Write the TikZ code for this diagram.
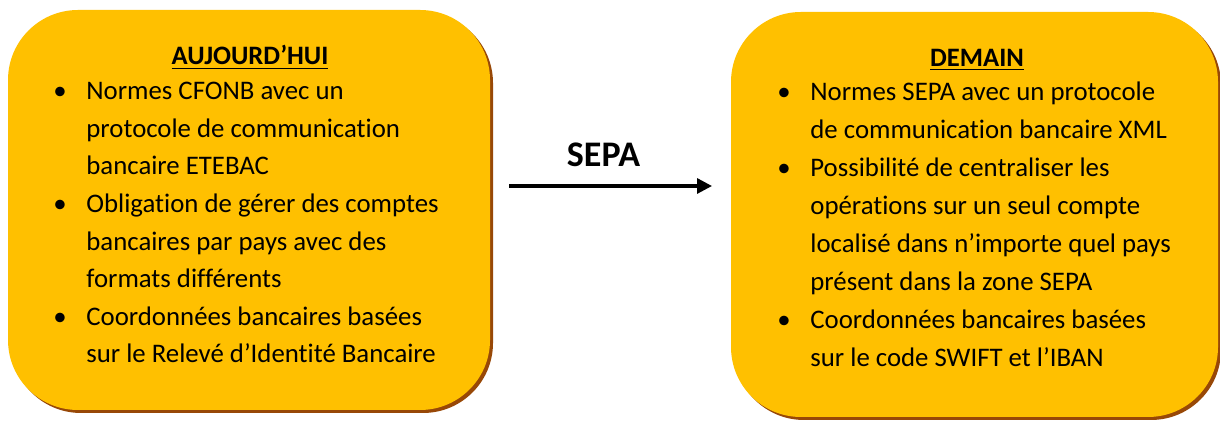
\documentclass[tikz,border=0pt]{standalone}
\usepackage{fontspec}
\setmainfont{Carlito}[Ligatures = NoCommon]
\usetikzlibrary{arrows.meta, positioning}

\definecolor{jaune}{HTML}{FFC000}
\definecolor{brun}{HTML}{984807}
\newcommand{\puce}{\makebox[16.5pt][l]{\textbullet}}
\newcommand{\suite}{\hspace*{16.5pt}}

\begin{document}
\begin{tikzpicture}[
                x = 0.5pt, y = -0.5pt, % one unit = one pixel, y going down
                > = {Triangle[length = 7.5pt, width = 7.5pt]}, % arrow head style
                node distance = 7mm
            ]

            \tikzstyle{boite}=[fill = jaune, rounded corners = 35pt, inner sep = 0pt,
            preaction = {fill = brun, transform canvas = {shift = {(1.5pt,-1.5pt)}}}]
            \tikzstyle{titre}=[anchor = base, inner sep = 0pt,
            font = \fontsize{13.3}{15.6}\selectfont\bfseries]
            \tikzstyle{liste}=[anchor = base west, align = left, inner sep = 0pt]

            \useasboundingbox (0,0) rectangle (1220,421);

            % the two boxes
            \node (auj) [boite, minimum width = 241pt, minimum height = 200pt] at (249,210) {};
            \node (dem) [boite, minimum width = 243.5pt, minimum height = 202.5pt] at (974.5,214.5) {};

            \node (tauj) [titre] at (250,65) {\underline{AUJOURD’HUI}};
            \node (tdem) [titre] at (977,67) {\underline{DEMAIN}};

            % base = last line of the list
            \node (lauj) [liste, font = \fontsize{13.4}{18.8}\selectfont] at (53,363) {\puce Normes CFONB avec un\\
            \suite protocole de communication\\ \suite bancaire ETEBAC\\
            \puce Obligation de gérer des comptes\\ \suite bancaires par pays avec des\\
            \suite formats différents\\ \puce Coordonnées bancaires basées\\
            \suite sur le Relevé d’Identité Bancaire};

            \node (ldem) [liste, font = \fontsize{13.4}{19}\selectfont] at (777,367) {\puce Normes SEPA avec un protocole\\
            \suite de communication bancaire XML\\ \puce Possibilité de centraliser les\\
            \suite opérations sur un seul compte\\ \suite localisé dans n’importe quel pays\\
            \suite présent dans la zone SEPA\\ \puce Coordonnées bancaires basées\\
            \suite sur le code SWIFT et l’IBAN};

            % the arrow between them
            \coordinate (depart) at (509,186); \coordinate (arrivee) at (712,186);
            \draw[->, line width = 1.6pt] (depart) -- (arrivee);
            \node (sepa) [anchor = base, inner sep = 0pt,
            font = \fontsize{18}{21}\selectfont\bfseries] at (603.5,167) {SEPA};

        \end{tikzpicture}
\end{document}
